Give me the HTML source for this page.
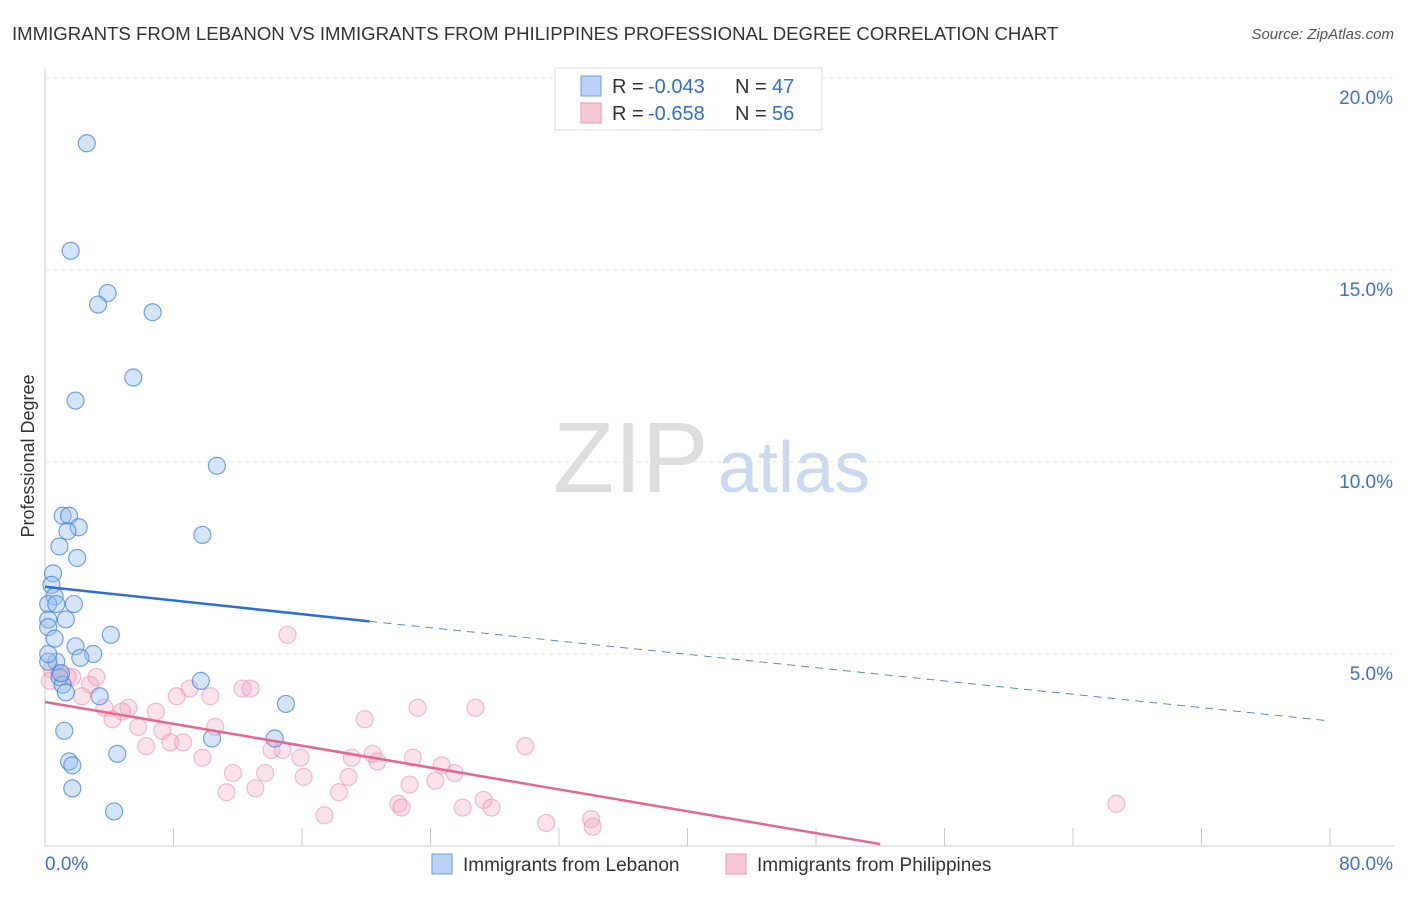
<!DOCTYPE html>
<html><head><meta charset="utf-8"><style>
body{margin:0;background:#fff;font-family:"Liberation Sans",sans-serif;}
svg text{font-family:"Liberation Sans",sans-serif;}
</style></head><body>
<svg id="chart" width="1406" height="892">
<text x="12" y="40" font-size="18.6" fill="#333">IMMIGRANTS FROM LEBANON VS IMMIGRANTS FROM PHILIPPINES PROFESSIONAL DEGREE CORRELATION CHART</text>
<text x="1394" y="39" font-size="15" fill="#555" font-style="italic" text-anchor="end">Source: ZipAtlas.com</text>
<text x="34" y="456" font-size="18" fill="#333" transform="rotate(-90 34 456)" text-anchor="middle">Professional Degree</text>
<text x="553" y="492" font-size="100" fill="#ddd" font-family="Liberation Serif">ZIP</text>
<text x="718" y="492" font-size="72" fill="#c9daf0">atlas</text>
<g id="grid"></g><g id="pts"></g><g id="lines"></g>
<g>
<rect x="555" y="68" width="267" height="62" fill="#fff" stroke="#ddd"/>
<rect x="581" y="76" width="20" height="20" fill="#b9d2f5" stroke="#6d9de0"/>
<rect x="581" y="103" width="20" height="20" fill="#f9c8d6" stroke="#ec93ae"/>
<text x="612" y="93" font-size="20" fill="#333">R = </text>
<text x="648" y="93" font-size="20" fill="#2f6fd6">-0.043</text>
<text x="735" y="93" font-size="20" fill="#333">N = </text>
<text x="772" y="93" font-size="20" fill="#2f6fd6">47</text>
<text x="612" y="120" font-size="20" fill="#333">R = </text>
<text x="648" y="120" font-size="20" fill="#2f6fd6">-0.658</text>
<text x="735" y="120" font-size="20" fill="#333">N = </text>
<text x="772" y="120" font-size="20" fill="#2f6fd6">56</text>
</g>
<g>
<rect x="432" y="854" width="20" height="20" fill="#b9d2f5" stroke="#6d9de0"/>
<text x="463" y="871" font-size="19" fill="#333">Immigrants from Lebanon</text>
<rect x="726" y="854" width="20" height="20" fill="#f9c8d6" stroke="#ec93ae"/>
<text x="757" y="871" font-size="19" fill="#333">Immigrants from Philippines</text>
</g>
</svg>
<script>
const yTicks=[5,10,15,20];
const xTickLabels=["0.0%","80.0%"];
const blueX=[2.6,1.6,3.9,3.3,6.7,5.5,1.9,10.7,1.1,1.5,2.1,1.4,9.8,0.9,2.0,0.5,0.4,0.6,0.2,0.7,1.8,1.3,0.2,0.2,0.6,4.1,1.9,3.0,2.2,0.7,0.2,0.9,1.1,1.3,3.4,9.7,15.0,1.2,14.3,10.4,4.5,1.5,1.7,1.7,4.3,0.2,1.0];
const blueY=[18.3,15.5,14.4,14.1,13.9,12.2,11.6,9.9,8.6,8.6,8.3,8.2,8.1,7.8,7.5,7.1,6.8,6.5,6.3,6.3,6.3,5.9,5.9,5.7,5.4,5.5,5.2,5.0,4.9,4.8,4.8,4.4,4.2,4.0,3.9,4.3,3.7,3.0,2.8,2.8,2.4,2.2,2.1,1.5,0.9,5.0,4.5];
const pinkX=[0.4,0.9,1.7,0.3,3.2,1.4,2.8,2.3,3.7,5.2,4.8,4.2,6.9,5.8,8.2,9.0,10.3,7.3,6.3,7.8,8.6,10.6,9.8,12.3,12.8,15.1,11.7,11.3,13.7,13.1,14.1,14.8,15.9,16.1,17.4,18.3,18.9,19.1,19.9,20.4,20.7,22.0,22.2,22.7,22.9,23.2,24.3,24.7,25.5,26.0,26.8,27.3,27.8,29.9,31.2,34.0,34.1,66.7];
const pinkY=[4.6,4.5,4.4,4.3,4.4,4.4,4.2,3.9,3.6,3.6,3.5,3.3,3.5,3.1,3.9,4.1,3.9,3.0,2.6,2.7,2.7,3.1,2.3,4.1,4.1,5.5,1.9,1.4,1.9,1.5,2.5,2.5,2.3,1.8,0.8,1.4,1.8,2.3,3.3,2.4,2.2,1.1,1.0,1.6,2.3,3.6,1.7,2.1,1.9,1.0,3.6,1.2,1.0,2.6,0.6,0.7,0.5,1.1];
const blueTrend=[0,6.75,20.2,5.85,79.7,3.27];
const pinkTrend=[0,3.75,52,0.05];
const X0=45,X1=1330,YB=846,PY=38.4;
const sx=v=>X0+(v/80)*(X1-X0), sy=v=>YB-v*PY;
const NS="http://www.w3.org/2000/svg";
function mk(t,a,p){const e=document.createElementNS(NS,t);for(const k in a)e.setAttribute(k,a[k]);p.appendChild(e);return e;}
const grid=document.getElementById('grid');
yTicks.forEach(t=>{
 const l=mk('line',{x1:X0,x2:1394,y1:sy(t),y2:sy(t),stroke:'#e6e6e6','stroke-dasharray':'4 4'},grid);
 
 
 const tx=mk('text',{x:1393,y:sy(t)+26,'font-size':19,fill:'#3a72d0','text-anchor':'end'},grid);
 tx.textContent=t.toFixed(1)+'%';
 
 
});
const ax=mk('line',{x1:X0,x2:X0,y1:68,y2:YB,stroke:'#ccc'},grid);


const bx=mk('line',{x1:X0,x2:1394,y1:YB,y2:YB,stroke:'#ccc'},grid);


for(let i=0;i<=10;i++){const t=mk('line',{x1:sx(i*8),x2:sx(i*8),y1:YB,y2:YB-18,stroke:'#ccc'},grid);
 
 }
[[0,'start',45],[80,'end',1393]].forEach((d,i)=>{const t=mk('text',{x:d[2],y:870,'font-size':19,fill:'#3a72d0','text-anchor':d[1]},grid);t.textContent=xTickLabels[i];
 
 });
const pts=document.getElementById('pts');
pinkX.forEach((x,i)=>{const c=mk('circle',{cx:sx(x),cy:sy(pinkY[i]),r:8.5,fill:'rgba(245,165,190,0.32)',stroke:'rgba(230,130,160,0.5)','stroke-width':1.2},pts);
 
 });
blueX.forEach((x,i)=>{const c=mk('circle',{cx:sx(x),cy:sy(blueY[i]),r:8.5,fill:'rgba(150,190,240,0.4)',stroke:'rgba(60,125,215,0.7)','stroke-width':1.2},pts);
 
 });
const lines=document.getElementById('lines');
const b1=mk('line',{x1:sx(blueTrend[0]),y1:sy(blueTrend[1]),x2:sx(blueTrend[2]),y2:sy(blueTrend[3]),stroke:'#2a6fd6','stroke-width':2.5},lines);


const b2=mk('line',{x1:sx(blueTrend[2]),y1:sy(blueTrend[3]),x2:sx(blueTrend[4]),y2:sy(blueTrend[5]),stroke:'#5a8ad6','stroke-width':1,'stroke-dasharray':'8 6'},lines);


const p1=mk('line',{x1:sx(pinkTrend[0]),y1:sy(pinkTrend[1]),x2:sx(pinkTrend[2]),y2:sy(pinkTrend[3]),stroke:'#e8658f','stroke-width':2.5},lines);


</script>
</body></html>
